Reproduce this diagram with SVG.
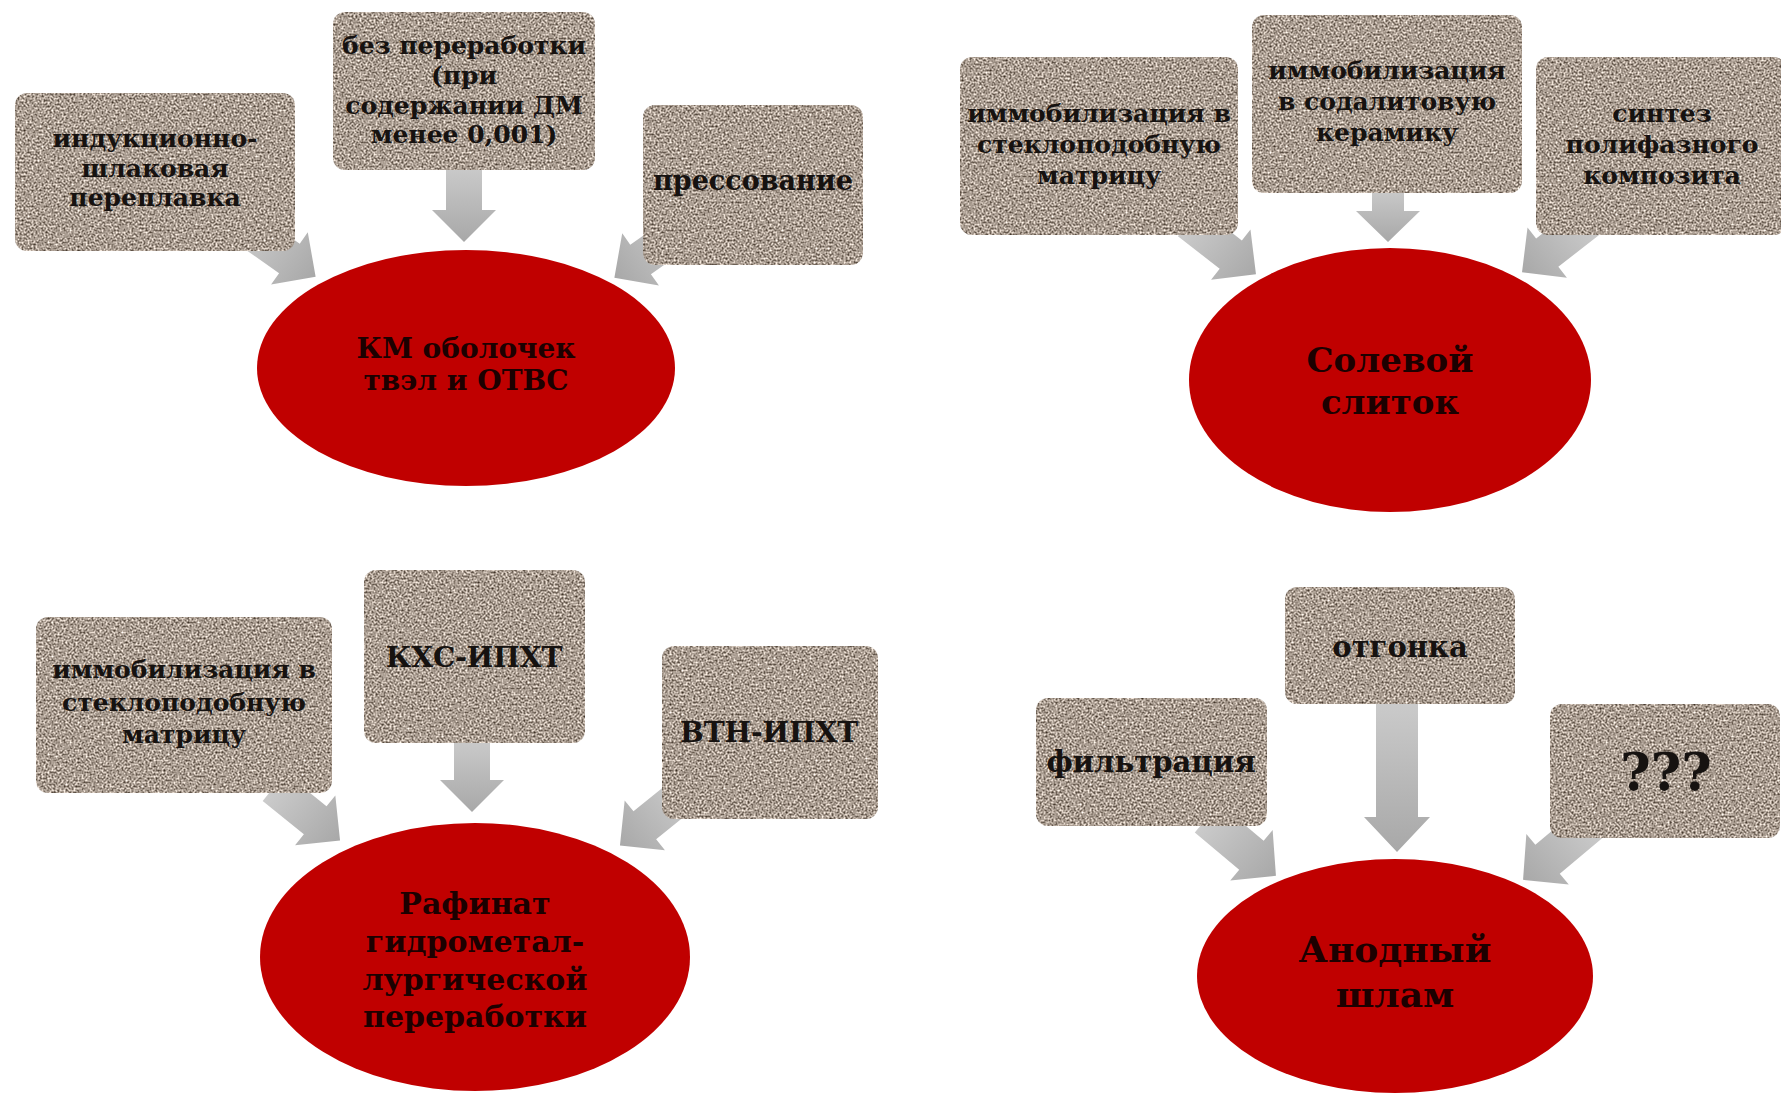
<svg xmlns="http://www.w3.org/2000/svg" width="1781" height="1094" viewBox="0 0 1781 1094">
<style>
.box{fill:#a89c90;filter:url(#granite)}
.ell{fill:#c00000}
.arr{fill:url(#ag)}
.t{font-family:"DejaVu Serif","Liberation Serif",serif;font-weight:bold;fill:#161210;text-anchor:middle}
.s24{font-size:25px}
.s28{font-size:28px}
.s29{font-size:29px}
.et{font-family:"DejaVu Serif","Liberation Serif",serif;font-weight:bold;fill:#1c0000;text-anchor:middle}
</style>
<defs>
<filter id="granite" x="0" y="0" width="1" height="1" color-interpolation-filters="sRGB">
<feTurbulence type="fractalNoise" baseFrequency="0.5" numOctaves="2" seed="7" result="noise"/>
<feColorMatrix in="noise" type="matrix" values="1.25 0 0 0 0.04  1.25 0 0 0 -0.01  1.25 0 0 0 -0.055  0 0 0 0 1" result="col"/>
<feComposite in="col" in2="SourceGraphic" operator="in"/>
</filter>
<linearGradient id="ag" x1="0" y1="0" x2="0" y2="1">
<stop offset="0" stop-color="#cbcbcb"/>
<stop offset="1" stop-color="#a8a8a8"/>
</linearGradient>
</defs>
<rect width="1781" height="1094" fill="#ffffff"/>

<g id="connectors">
<polygon class="arr" transform="translate(246,228) rotate(-55)" points="-18,0 18,0 18,53 32,53 0,85 -32,53 -18,53"/>
<polygon class="arr" transform="translate(464,165)" points="-18,0 18,0 18,45 32,45 0,77 -32,45 -18,45"/>
<polygon class="arr" transform="translate(684,229) rotate(55)" points="-18,0 18,0 18,53 32,53 0,85 -32,53 -18,53"/>
<polygon class="arr" transform="translate(1189,222) rotate(-52)" points="-18,0 18,0 18,53 32,53 0,85 -32,53 -18,53"/>
<polygon class="arr" transform="translate(1388,187)" points="-16,0 16,0 16,24 32,24 0,55 -32,24 -16,24"/>
<polygon class="arr" transform="translate(1589,220) rotate(52)" points="-18,0 18,0 18,53 32,53 0,85 -32,53 -18,53"/>
<polygon class="arr" transform="translate(274,787) rotate(-51)" points="-18,0 18,0 18,53 32,53 0,85 -32,53 -18,53"/>
<polygon class="arr" transform="translate(472,738)" points="-18,0 18,0 18,42 32,42 0,74 -32,42 -18,42"/>
<polygon class="arr" transform="translate(686,792) rotate(51)" points="-18,0 18,0 18,53 32,53 0,85 -32,53 -18,53"/>
<polygon class="arr" transform="translate(1207,818) rotate(-50)" points="-19,0 19,0 19,58 33,58 0,90 -33,58 -19,58"/>
<polygon class="arr" transform="translate(1397,700)" points="-21,0 21,0 21,117 33,117 0,152 -33,117 -21,117"/>
<polygon class="arr" transform="translate(1592,822) rotate(50)" points="-19,0 19,0 19,58 33,58 0,90 -33,58 -19,58"/>
</g>

<g id="a1">
<rect class="box" x="15" y="93" width="280" height="158" rx="12"/>
<text class="t s24" x="155" y="147">индукционно-</text>
<text class="t s24" x="155" y="177">шлаковая</text>
<text class="t s24" x="155" y="206">переплавка</text>
</g>
<g id="a2">
<rect class="box" x="333" y="12" width="262" height="158" rx="12"/>
<text class="t s24" x="464" y="54">без переработки</text>
<text class="t s24" x="464" y="84">(при</text>
<text class="t s24" x="464" y="114">содержании ДМ</text>
<text class="t s24" x="464" y="143">менее 0,001)</text>
</g>
<g id="a3">
<rect class="box" x="643" y="105" width="220" height="160" rx="12"/>
<text class="t" font-size="27" x="753" y="190">прессование</text>
</g>
<g id="a-center">
<ellipse class="ell" cx="466" cy="368" rx="209" ry="118"/>
<text class="et" font-size="28" x="466" y="358">КМ оболочек</text>
<text class="et" font-size="28" x="466" y="390">твэл и ОТВС</text>
</g>

<g id="b1">
<rect class="box" x="960" y="57" width="278" height="178" rx="12"/>
<text class="t s24" x="1099" y="122">иммобилизация в</text>
<text class="t s24" x="1099" y="153">стеклоподобную</text>
<text class="t s24" x="1099" y="184">матрицу</text>
</g>
<g id="b2">
<rect class="box" x="1252" y="15" width="270" height="178" rx="12"/>
<text class="t s24" x="1387" y="79">иммобилизация</text>
<text class="t s24" x="1387" y="110">в содалитовую</text>
<text class="t s24" x="1387" y="141">керамику</text>
</g>
<g id="b3">
<rect class="box" x="1536" y="57" width="250" height="178" rx="12"/>
<text class="t s24" x="1662" y="122">синтез</text>
<text class="t s24" x="1662" y="153">полифазного</text>
<text class="t s24" x="1662" y="184">композита</text>
</g>
<g id="b-center">
<ellipse class="ell" cx="1390" cy="380" rx="201" ry="132"/>
<text class="et" font-size="34" x="1390" y="372">Солевой</text>
<text class="et" font-size="34" x="1390" y="414">слиток</text>
</g>

<g id="c1">
<rect class="box" x="36" y="617" width="296" height="176" rx="12"/>
<text class="t s24" x="184" y="678">иммобилизация в</text>
<text class="t s24" x="184" y="711">стеклоподобную</text>
<text class="t s24" x="184" y="743">матрицу</text>
</g>
<g id="c2">
<rect class="box" x="364" y="570" width="221" height="173" rx="12"/>
<text class="t s28" x="474" y="667">КХС-ИПХТ</text>
</g>
<g id="c3">
<rect class="box" x="662" y="646" width="216" height="173" rx="12"/>
<text class="t s28" x="769" y="742">ВТН-ИПХТ</text>
</g>
<g id="c-center">
<ellipse class="ell" cx="475" cy="957" rx="215" ry="134"/>
<text class="et" font-size="30" x="475" y="914">Рафинат</text>
<text class="et" font-size="30" x="475" y="952">гидрометал-</text>
<text class="et" font-size="30" x="475" y="990">лургической</text>
<text class="et" font-size="30" x="475" y="1027">переработки</text>
</g>

<g id="d1">
<rect class="box" x="1036" y="698" width="231" height="128" rx="12"/>
<text class="t s29" x="1151" y="772">фильтрация</text>
</g>
<g id="d2">
<rect class="box" x="1285" y="587" width="230" height="117" rx="12"/>
<text class="t s29" x="1400" y="657">отгонка</text>
</g>
<g id="d3">
<rect class="box" x="1550" y="704" width="230" height="134" rx="12"/>
<text class="t" font-size="52" x="1666" y="790">???</text>
</g>
<g id="d-center">
<ellipse class="ell" cx="1395" cy="976" rx="198" ry="117"/>
<text class="et" font-size="36" x="1395" y="962">Анодный</text>
<text class="et" font-size="36" x="1395" y="1007">шлам</text>
</g>
</svg>
